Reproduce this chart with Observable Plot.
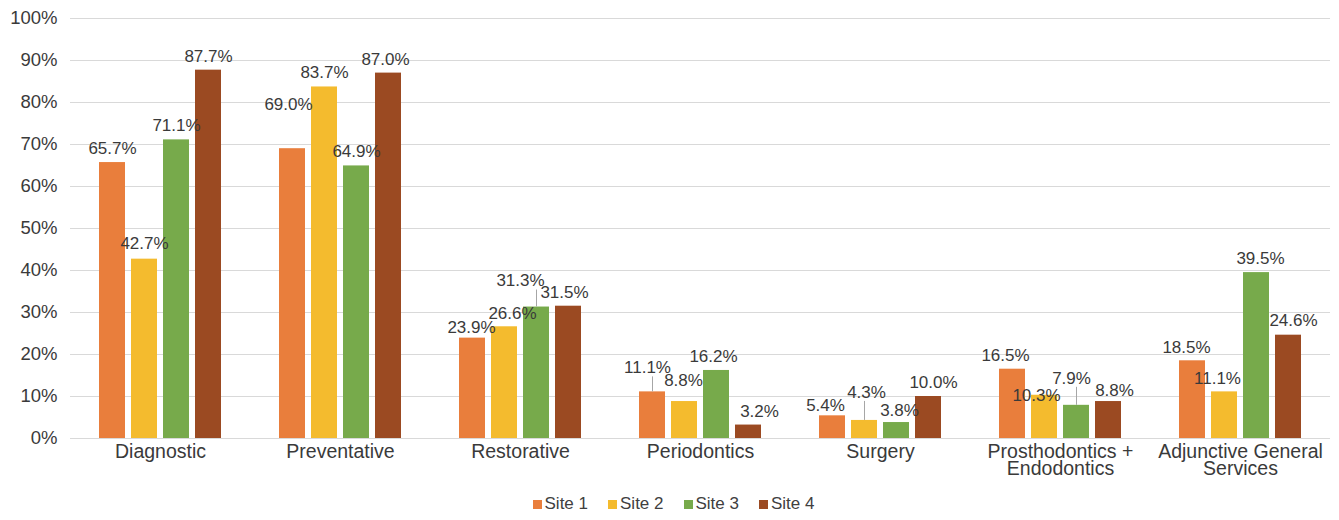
<!DOCTYPE html>
<html>
<head>
<meta charset="utf-8">
<script src="https://cdn.jsdelivr.net/npm/d3@7"></script>
<script src="https://cdn.jsdelivr.net/npm/@observablehq/plot@0.6"></script>
<style>
  html, body { margin: 0; padding: 0; background: #fff; }
  body { width: 1339px; height: 520px; overflow: hidden; font-family: "Liberation Sans", Arial, sans-serif; color: #404040; }
  #legend { display: flex; justify-content: center; gap: 20px; font-size: 17px; margin-top: 4px; padding-left: 8px; }
  #legend span.item { display: inline-flex; align-items: center; }
  #legend span.sw { display: inline-block; width: 9px; height: 9px; margin-right: 3px; }
</style>
</head>
<body>
<div id="chart"></div>
<div id="legend"></div>
<script>
const categories = ["Diagnostic", "Preventative", "Restorative", "Periodontics", "Surgery", "Prosthodontics + Endodontics", "Adjunctive General Services"];
const categoryLabels = ["Diagnostic", "Preventative", "Restorative", "Periodontics", "Surgery", "Prosthodontics +\nEndodontics", "Adjunctive General\nServices"];
const sites = ["Site 1", "Site 2", "Site 3", "Site 4"];
const site1 = [65.7, 69.0, 23.9, 11.1, 5.4, 16.5, 18.5];
const site2 = [42.7, 83.7, 26.6, 8.8, 4.3, 10.3, 11.1];
const site3 = [71.1, 64.9, 31.3, 16.2, 3.8, 7.9, 39.5];
const site4 = [87.7, 87.0, 31.5, 3.2, 10.0, 8.8, 24.6];
const yTicks = [0, 10, 20, 30, 40, 50, 60, 70, 80, 90, 100];
const colors = ["#E97E3C", "#F4BB2E", "#77AA4B", "#9B4A22"];

// label nudges (pixels), per category, per site [dx, dy] — mimics Excel's label placement
const labelNudge = [
  [[0, 0], [0, -2], [0, 0], [0, 0]],
  [[-4, -30], [0, 0], [0, 0], [-3, 0]],
  [[-1, 3], [8, 1], [-16, -12], [-4, 0]],
  [[-5, -10], [-1, -7], [-3, 0], [11, 0]],
  [[-7, 4], [2, -14], [3, 2], [5, 0]],
  [[-7, 0], [-8, 14], [-5, -13], [6, 3]],
  [[-6, 1], [-7, 1], [4, 0], [5, -1]]
];
// which labels carry a leader line
const leaders = [[2, 2], [3, 0], [4, 1], [5, 2]];

const series = [site1, site2, site3, site4];
const data = [];
categories.forEach((c, i) => sites.forEach((s, j) => data.push({
  category: c, site: s, value: series[j][i],
  dx: labelNudge[i][j][0], dy: labelNudge[i][j][1]
})));

const width = 1339, height = 490, marginTop = 18, marginBottom = 52, marginLeft = 70, marginRight = 9;
const pxPerUnit = (height - marginTop - marginBottom) / 100;
const leaderData = leaders.map(([i, j]) => {
  const d = data[i * 4 + j];
  return { category: d.category, site: d.site, y1: d.value, y2: d.value + (-(d.dy - 14) - 9) / pxPerUnit };
});

const labelOf = new Map(categories.map((c, i) => [c, categoryLabels[i]]));

const chart = Plot.plot({
  width, height, marginTop, marginBottom, marginLeft, marginRight,
  style: { fontFamily: "'Liberation Sans', Arial, sans-serif", color: "#404040", background: "#fff" },
  fx: { domain: categories, padding: 0, label: null },
  x: { domain: sites, paddingInner: 0.2, paddingOuter: 0.85, axis: null },
  y: { domain: [0, 100], label: null },
  color: { domain: sites, range: colors },
  marks: [
    Plot.gridY(yTicks, { stroke: "#d9d9d9", strokeOpacity: 1, strokeWidth: 1.2 }),
    Plot.axisY(yTicks, { tickSize: 0, tickPadding: 13, fontSize: 18.5, tickFormat: d => d + "%", fill: "#3a3a3a", label: null }),
    Plot.axisFx({ anchor: "bottom", tickSize: 0, tickPadding: 8, fontSize: 19.5, lineHeight: 0.86, tickFormat: d => labelOf.get(d), fill: "#3a3a3a", label: null }),
    Plot.barY(data, { fx: "category", x: "site", y: "value", fill: "site" }),
    Plot.ruleX(leaderData, { fx: "category", x: "site", y1: "y1", y2: "y2", stroke: "#a6a6a6", strokeWidth: 1 }),
    ...data.map(d => Plot.text([d], {
      fx: "category", x: "site", y: "value",
      text: r => r.value.toFixed(1) + "%",
      dx: d.dx, dy: d.dy - 14,
      fontSize: 17, fill: "#3a3a3a"
    }))
  ]
});
document.getElementById("chart").appendChild(chart);

const legend = document.getElementById("legend");
sites.forEach((s, i) => {
  const item = document.createElement("span");
  item.className = "item";
  item.innerHTML = `<span class="sw" style="background:${colors[i]}"></span>${s}`;
  legend.appendChild(item);
});
</script>
</body>
</html>
